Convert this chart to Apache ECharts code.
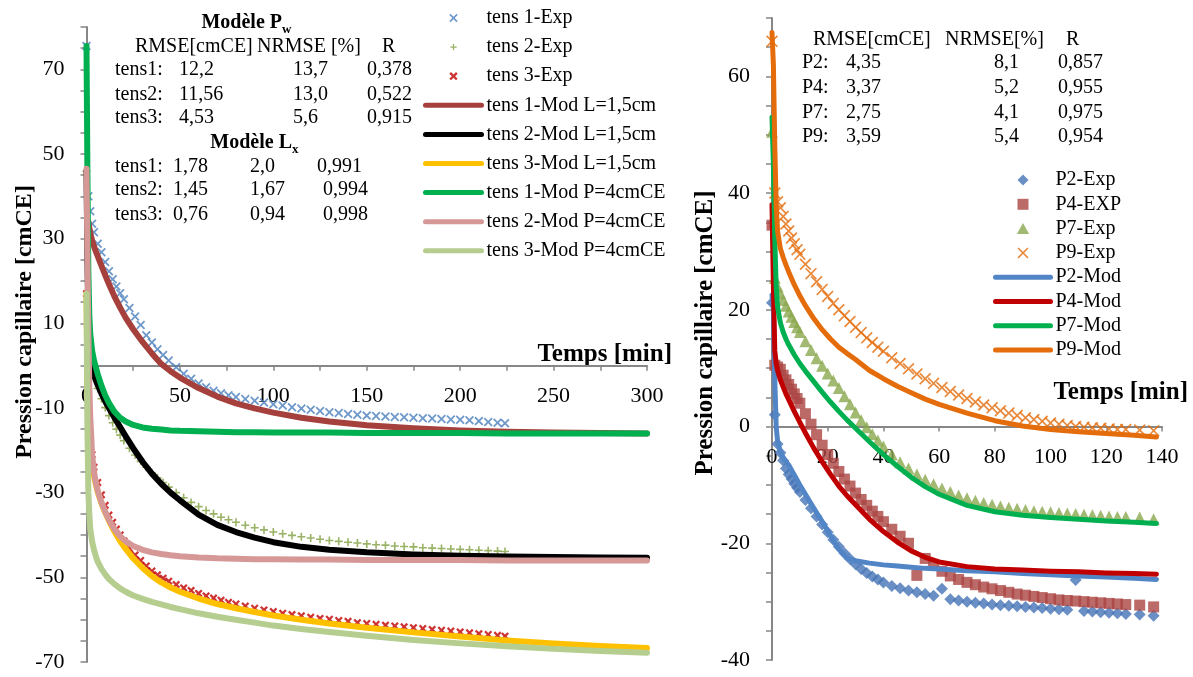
<!DOCTYPE html>
<html><head><meta charset="utf-8">
<script src="https://cdn.jsdelivr.net/npm/echarts@6/dist/echarts.min.js"></script>
<style>html,body{margin:0;padding:0;background:#fff}#c{width:1193px;height:677px}</style>
</head><body><div id="c"></div>
<script>
// ---------------- DATA ----------------
const timeLeftExp = [0,1,2,3,4,6,8,10,12,14,16,18,20,23,26,29,32,35,38,41,44,48,52,56,60,64,68,72,76,80,85,90,95,100,105,110,115,120,125,130,135,140,145,150,155,160,165,170,175,180,185,190,195,200,205,210,215,220,224];
const tens1Exp = [75.5,40,36.5,33.5,31.5,28.8,26.8,24.5,22.3,20.4,18.7,17.1,15.7,13.6,11.6,9.6,7.2,5.5,3.9,2.5,1.2,-0.4,-1.9,-3.1,-4.2,-5.1,-5.9,-6.5,-7,-7.4,-7.9,-8.3,-8.7,-9.1,-9.4,-9.8,-10.1,-10.4,-10.7,-11,-11.2,-11.4,-11.6,-11.8,-11.9,-12.0,-12.1,-12.2,-12.3,-12.4,-12.5,-12.6,-12.7,-12.8,-12.9,-13.1,-13.3,-13.5,-13.6];
const tens2Exp = [46,8,2,-1,-2.6,-5.4,-7.8,-9.9,-11.8,-13.5,-15,-16.4,-17.7,-19.5,-21.1,-22.6,-24,-25.3,-26.5,-27.6,-28.7,-30,-31.2,-32.3,-33.3,-34.2,-35,-35.8,-36.4,-37,-37.7,-38.3,-38.8,-39.3,-39.7,-40.1,-40.4,-40.7,-41,-41.3,-41.5,-41.7,-41.9,-42.1,-42.3,-42.4,-42.6,-42.7,-42.8,-43,-43.1,-43.2,-43.3,-43.4,-43.5,-43.6,-43.7,-43.8,-43.9];
const tens3Exp = [17,-10,-17,-21,-24,-27.6,-30.5,-33,-35.3,-37,-38.6,-40,-41.4,-43.2,-44.7,-46,-47.3,-48.5,-49.4,-50.2,-50.9,-51.7,-52.5,-53.1,-53.8,-54.4,-54.9,-55.4,-55.9,-56.3,-56.8,-57.3,-57.7,-58.1,-58.5,-58.8,-59.1,-59.4,-59.7,-59.9,-60.2,-60.4,-60.7,-60.9,-61.1,-61.3,-61.5,-61.7,-61.9,-62.1,-62.3,-62.5,-62.7,-62.9,-63.1,-63.3,-63.5,-63.7,-63.9];

const timeLeftMod = [0,0.5,1,1.5,2,3,4,5,6,8,10,12,15,18,21,25,30,35,40,45,50,60,70,80,90,100,115,130,150,175,200,225,250,275,300];
const tens1ModL = [null,null,34,32.5,31.3,29.6,28.2,27,25.9,23.6,21.4,19.3,16.3,13.7,11.3,8.6,5.6,2.9,0.4,-1.3,-2.8,-5.3,-7.3,-8.9,-10.1,-11.1,-12.3,-13.2,-14.1,-14.8,-15.3,-15.6,-15.8,-15.9,-16];
const tens2ModL = [46,25,12,6,3,0,-2.3,-3.5,-4.6,-6.6,-8.4,-10,-12.3,-14.5,-16.7,-19.5,-22.7,-25.5,-27.9,-30,-31.8,-35.2,-37.6,-39.3,-40.6,-41.7,-42.8,-43.5,-44.1,-44.6,-44.9,-45.1,-45.2,-45.3,-45.4];
const tens3ModL = [17,-5,-14,-18,-20.5,-23.5,-26,-28,-29.8,-32.5,-34.7,-36.6,-39.2,-41.4,-43.3,-45.5,-47.8,-49.7,-51.2,-52.4,-53.4,-55,-56.3,-57.3,-58.2,-59,-60,-60.9,-61.9,-63,-64,-64.9,-65.6,-66.2,-66.7];
const tens1ModP = [75.5,45,22,12,7.5,3.5,1.3,-0.4,-2,-4.7,-7,-8.8,-10.9,-12.3,-13.2,-14,-14.6,-14.9,-15.1,-15.3,-15.4,-15.5,-15.6,-15.7,-15.7,-15.8,-15.8,-15.8,-15.9,-15.9,-15.9,-16,-16,-16,-16];
const tens2ModP = [46.5,25,8,-5,-12,-21,-25,-27.6,-29.5,-32.3,-34.5,-36.4,-38.7,-40.3,-41.5,-42.6,-43.5,-44.1,-44.5,-44.8,-45,-45.3,-45.5,-45.6,-45.7,-45.7,-45.8,-45.8,-45.9,-45.9,-45.9,-46,-46,-46,-46];
const tens3ModP = [17,-15,-30,-35,-38.5,-41.5,-43.5,-45,-46.3,-48,-49.3,-50.4,-51.6,-52.6,-53.4,-54.3,-55.1,-55.8,-56.4,-57,-57.5,-58.5,-59.3,-60,-60.7,-61.4,-62.2,-62.9,-63.8,-64.8,-65.6,-66.3,-66.9,-67.4,-67.8];

const timeRightExp = [0,1,2,3,4,5,6,7,8,9,10,12,14,16,18,20,22,24,26,28,30,32,34,36,38,40,43,46,49,52,55,58,61,64,67,70,73,76,79,82,85,88,91,94,97,100,103,106,109,112,115,118,121,124,127,132,137];
const p2Exp = [21.2,2,-3,-4.5,-5.8,-7.2,-8.2,-9,-9.8,-10.5,-11.2,-12.6,-14,-15.4,-16.8,-18.1,-19.4,-20.6,-21.7,-22.7,-23.6,-24.4,-25.1,-25.7,-26.2,-26.7,-27.3,-27.7,-28.1,-28.4,-28.7,-29,-27.8,-29.6,-29.8,-30,-30.2,-30.3,-30.5,-30.6,-30.7,-30.8,-30.9,-31,-31.1,-31.2,-31.3,-31.4,-26.3,-31.6,-31.7,-31.8,-31.9,-32,-32.1,-32.2,-32.4];
const p4Exp = [34.5,10.5,10.2,9.8,8.8,8,7.2,6.4,5.6,4.8,4,2.2,0.4,-1.4,-3.2,-4.8,-6.3,-7.7,-9,-10.2,-11.4,-12.5,-13.5,-14.5,-15.4,-16.3,-17.6,-18.8,-20,-25.5,-22.6,-23.8,-24.8,-25.6,-26.2,-26.7,-27.1,-27.5,-27.8,-28.1,-28.4,-28.7,-28.9,-29.1,-29.3,-29.5,-29.7,-29.8,-29.9,-30,-30.1,-30.2,-30.3,-30.4,-30.5,-30.6,-30.9];
const p7Exp = [50.5,25.5,24,22.8,21.7,20.7,19.7,18.8,17.9,17,16.2,14.6,13.1,11.7,10.4,9.1,7.9,6.6,5.2,3.8,2.4,1.1,-0.1,-1.3,-2.4,-3.4,-4.8,-6.1,-7.2,-8.2,-9.1,-9.9,-10.6,-11.2,-11.8,-12.3,-12.7,-13.1,-13.4,-13.7,-13.9,-14.1,-14.3,-14.5,-14.6,-14.7,-14.8,-14.9,-15,-15.1,-15.2,-15.3,-15.4,-15.5,-15.5,-15.6,-15.9];
const p9Exp = [66,40,38.5,37.5,36,34.7,33.5,32.3,31.3,30.3,29.5,27.8,26.2,24.8,23.5,22.3,21.1,20,19,18,17,16.1,15.2,14.4,13.6,12.9,11.8,10.8,9.9,9,8.2,7.4,6.7,6,5.4,4.8,4.2,3.7,3.2,2.7,2.3,1.9,1.5,1.2,0.9,0.6,0.4,0.2,0,-0.1,-0.2,-0.3,-0.4,-0.5,-0.5,-0.6,-0.7];

const timeRightMod = [0,0.5,1,1.5,2,3,4,5,6,8,10,12,15,18,21,24,27,30,35,40,45,50,55,60,70,80,90,100,110,120,130,138];
const p2Mod = [22.5,20,8,0,-2.5,-4.3,-5.3,-6,-6.6,-8.3,-10,-11.6,-14,-16.3,-18.7,-21,-22.6,-23,-23.4,-23.7,-23.9,-24.1,-24.3,-24.4,-24.7,-24.9,-25.2,-25.4,-25.6,-25.8,-26,-26.2];
const p4Mod = [38,24,13,10.8,9.6,8,6.8,5.6,4.6,2.6,0.7,-1.1,-3.7,-6,-8.2,-10.2,-11.9,-13.4,-15.9,-18,-19.8,-21.3,-22.4,-23.2,-24,-24.4,-24.6,-24.8,-24.9,-25.1,-25.2,-25.3];
const p7Mod = [53,45,32,24,20.5,17.8,16.2,15,14,12.3,10.8,9.5,7.7,5.9,4.2,2.6,1.1,-0.3,-2.6,-4.8,-6.8,-8.7,-10.3,-11.6,-13.5,-14.6,-15.2,-15.6,-15.9,-16.2,-16.4,-16.6];
const p9Mod = [67.5,62,48,38,33.5,30.5,29,27.7,26.5,24.3,22.4,20.7,18.5,16.6,15,13.6,12.5,11.5,9.6,8.2,6.9,5.8,4.7,3.8,2.3,1,0.1,-0.5,-0.9,-1.2,-1.5,-1.8];

// tick labels
const leftYLabels = [-70,-50,-30,-10,10,30,50,70];
const leftXLabels = [0,50,100,150,200,250,300];
const rightYLabels = [-40,-20,0,20,40,60];
const rightXLabels = [0,20,40,60,80,100,120,140];

// annotation tables
const pwTitle = ['Modèle P', 'w'];
const lxTitle = ['Modèle L', 'x'];
const pwHeader = ['RMSE[cmCE]', 'NRMSE [%]', 'R'];
const pwRows = [['tens1:','12,2','13,7','0,378'],['tens2:','11,56','13,0','0,522'],['tens3:','4,53','5,6','0,915']];
const lxRows = [['tens1:','1,78','2,0','0,991'],['tens2:','1,45','1,67','0,994'],['tens3:','0,76','0,94','0,998']];
const rightHeader = ['RMSE[cmCE]', 'NRMSE[%]', 'R'];
const rightRows = [['P2:','4,35','8,1','0,857'],['P4:','3,37','5,2','0,955'],['P7:','2,75','4,1','0,975'],['P9:','3,59','5,4','0,954']];
const axisNameX = 'Temps [min]';
const axisNameY = 'Pression capillaire [cmCE]';

// ---------------- STYLE / BUILD ----------------
const FONT = '"Liberation Serif","Times New Roman",serif';
const GRAY = '#878787';
const X_THIN = 'path://M0,1 L1,0 L5,4 L9,0 L10,1 L6,5 L10,9 L9,10 L5,6 L1,10 L0,9 L4,5 Z';
const X_MED = 'path://M0,1.4 L1.4,0 L5,3.6 L8.6,0 L10,1.4 L6.4,5 L10,8.6 L8.6,10 L5,6.4 L1.4,10 L0,8.6 L3.6,5 Z';
const X_BOLD = 'path://M0,2 L2,0 L5,3 L8,0 L10,2 L7,5 L10,8 L8,10 L5,7 L2,10 L0,8 L3,5 Z';
const PLUS = 'path://M4,0 L6,0 L6,4 L10,4 L10,6 L6,6 L6,10 L4,10 L4,6 L0,6 L0,4 L4,4 Z';
const DIAMOND = 'path://M5,0 L10,5 L5,10 L0,5 Z';
const SQUARE = 'path://M0,0 L10,0 L10,10 L0,10 Z';
const TRIANGLE = 'path://M5,0 L10,9 L0,9 Z';
const pad = (p, a, b) => p.replace('path://', 'path://M' + a + ',' + a + ' M' + b + ',' + b + ' ');

function pairs(xs, ys) { return xs.map((x, i) => [x, ys[i]]); }

function scatter(name, gi, xs, ys, symbol, size, color) {
  return { name, type: 'scatter', xAxisIndex: gi, yAxisIndex: gi, data: pairs(xs, ys),
    symbol, symbolSize: size, itemStyle: { color }, silent: true };
}
function line(name, gi, xs, ys, color, width) {
  return { name, type: 'line', xAxisIndex: gi, yAxisIndex: gi, data: pairs(xs, ys),
    symbol: 'none', smooth: false, connectNulls: false,
    lineStyle: { color, width, cap: 'round', join: 'round' }, itemStyle: { color }, silent: true };
}

const LEFT = { left: 86.5, top: 27, width: 560.5, height: 635, ymin: -70, ymax: 80, xmax: 300 };
const RIGHT = { left: 772, top: 18, width: 390, height: 642, ymin: -40, ymax: 70, xmax: 140 };
const plotGrid = g => ({ left: g.left, top: g.top, width: g.width, height: g.height, outerBoundsMode: 'none', containLabel: false });
// helper grid whose bottom edge lies on value 0 of the plot: it carries the time axis
const zeroGrid = g => ({ left: g.left, top: g.top, width: g.width,
  height: g.height * g.ymax / (g.ymax - g.ymin), outerBoundsMode: 'none', containLabel: false });

function yAxis(grid, g, labels) {
  return { gridIndex: grid, type: 'value', min: g.ymin, max: g.ymax, interval: 5,
    axisLine: { show: true, onZero: false, lineStyle: { color: GRAY, width: 2 } },
    axisTick: { show: true, length: 6, lineStyle: { color: GRAY, width: 1.5 } },
    axisLabel: { fontFamily: FONT, fontSize: 22, color: '#000', margin: 22,
      formatter: v => labels.indexOf(Number(v)) >= 0 ? String(v) : '' },
    splitLine: { show: false } };
}
const hiddenX = (grid, g) => ({ gridIndex: grid, type: 'value', min: 0, max: g.xmax, show: false });
const hiddenY = grid => ({ gridIndex: grid, type: 'value', min: 0, max: 1, show: false });
function timeAxis(grid, g, interval, labels) {
  return { gridIndex: grid, type: 'value', min: 0, max: g.xmax, interval, position: 'bottom',
    axisLine: { show: true, onZero: false, lineStyle: { color: GRAY, width: 2 } },
    axisTick: { show: true, length: 5, lineStyle: { color: GRAY, width: 1.5 } },
    axisLabel: { fontFamily: FONT, fontSize: 22, color: '#000', margin: 20,
      formatter: v => labels.indexOf(Number(v)) >= 0 ? String(v) : '' },
    splitLine: { show: false } };
}

function txt(x, y, s, o) {
  return { type: 'text', x, y, silent: true,
    style: Object.assign({ text: s, fontFamily: FONT, fontSize: 20, fill: '#000',
      align: 'left', verticalAlign: 'middle' }, o || {}) };
}

const graphics = [];
graphics.push(txt(282, 23, pwTitle[0], { align: 'right', fontWeight: 'bold' }));
graphics.push(txt(282, 30, pwTitle[1], { fontWeight: 'bold', fontSize: 13 }));
[135, 257, 382].forEach((x, i) => graphics.push(txt(x, 47, pwHeader[i])));
pwRows.forEach((r, j) => [115, 179, 293, 367].forEach((x, i) => graphics.push(txt(x, [70, 95, 118][j], r[i]))));
graphics.push(txt(292, 143, lxTitle[0], { align: 'right', fontWeight: 'bold' }));
graphics.push(txt(292, 150, lxTitle[1], { fontWeight: 'bold', fontSize: 13 }));
lxRows.forEach((r, j) => [115, 173, 250, j === 0 ? 317 : 323].forEach((x, i) => graphics.push(txt(x, [167, 190, 215][j], r[i]))));
[813, 945, 1066].forEach((x, i) => graphics.push(txt(x, 40, rightHeader[i])));
rightRows.forEach((r, j) => [802, 846, 994, 1058].forEach((x, i) => graphics.push(txt(x, [63, 88, 113, 137][j], r[i]))));
graphics.push(txt(672, 355, axisNameX, { align: 'right', fontWeight: 'bold', fontSize: 25 }));
graphics.push(txt(1188, 393, axisNameX, { align: 'right', fontWeight: 'bold', fontSize: 25 }));
graphics.push(Object.assign(txt(0, 0, axisNameY, { align: 'center', fontWeight: 'bold', fontSize: 24 }), { x: 25, y: 322, rotation: Math.PI / 2 }));
graphics.push(Object.assign(txt(0, 0, axisNameY, { align: 'center', fontWeight: 'bold', fontSize: 25 }), { x: 706, y: 333, rotation: Math.PI / 2 }));

const series = [
  scatter('tens 1-Exp', 0, timeLeftExp, tens1Exp, X_MED, 9, '#4A7EBB'),
  scatter('tens 2-Exp', 0, timeLeftExp, tens2Exp, PLUS, 8, '#7F9F3F'),
  scatter('tens 3-Exp', 0, timeLeftExp, tens3Exp, X_BOLD, 8, '#C00000'),
  line('tens 1-Mod L=1,5cm', 0, timeLeftMod, tens1ModL, '#A5403D', 6),
  line('tens 2-Mod L=1,5cm', 0, timeLeftMod, tens2ModL, '#000000', 6),
  line('tens 3-Mod L=1,5cm', 0, timeLeftMod, tens3ModL, '#FFC000', 6),
  line('tens 1-Mod P=4cmCE', 0, timeLeftMod, tens1ModP, '#00B050', 6),
  line('tens 2-Mod P=4cmCE', 0, timeLeftMod, tens2ModP, '#D69897', 6),
  line('tens 3-Mod P=4cmCE', 0, timeLeftMod, tens3ModP, '#B5CD8F', 6),
  scatter('P2-Exp', 1, timeRightExp, p2Exp, 'diamond', 12, '#4573B5'),
  scatter('P4-EXP', 1, timeRightExp, p4Exp, 'rect', 11, '#AA4542'),
  scatter('P7-Exp', 1, timeRightExp, p7Exp, 'triangle', 12, '#8AA84C'),
  scatter('P9-Exp', 1, timeRightExp, p9Exp, X_THIN, 12, '#E46C0A'),
  line('P2-Mod', 1, timeRightMod, p2Mod, '#5285C6', 5),
  line('P4-Mod', 1, timeRightMod, p4Mod, '#C00000', 5),
  line('P7-Mod', 1, timeRightMod, p7Mod, '#00B050', 5),
  line('P9-Mod', 1, timeRightMod, p9Mod, '#E46C0A', 5)
];

const lineItem = (name, w) => ({ name, itemStyle: { opacity: 0 }, lineStyle: { width: w, cap: 'round' } });
const legendText = { fontFamily: FONT, fontSize: 20, color: '#000', lineHeight: 22 };
const option = {
  animation: false,
  backgroundColor: '#fff',
  grid: [plotGrid(LEFT), plotGrid(RIGHT), zeroGrid(LEFT), zeroGrid(RIGHT)],
  xAxis: [hiddenX(0, LEFT), hiddenX(1, RIGHT), timeAxis(2, LEFT, 25, leftXLabels), timeAxis(3, RIGHT, 20, rightXLabels)],
  yAxis: [yAxis(0, LEFT, leftYLabels), yAxis(1, RIGHT, rightYLabels), hiddenY(2), hiddenY(3)],
  legend: [
    { orient: 'vertical', left: 423, top: 7, padding: 0, itemWidth: 56, itemHeight: 10, itemGap: 7.1,
      selectedMode: false, textStyle: legendText,
      data: [
        { name: 'tens 1-Exp', icon: pad(X_MED, -1, 11) },
        { name: 'tens 2-Exp', icon: pad(PLUS, -3, 13) },
        { name: 'tens 3-Exp', icon: pad(X_BOLD, -1, 11) },
        lineItem('tens 1-Mod L=1,5cm', 5), lineItem('tens 2-Mod L=1,5cm', 5), lineItem('tens 3-Mod L=1,5cm', 5),
        lineItem('tens 1-Mod P=4cmCE', 5), lineItem('tens 2-Mod P=4cmCE', 5), lineItem('tens 3-Mod P=4cmCE', 5)] },
    { orient: 'vertical', left: 993, top: 169, padding: 0, itemWidth: 55, itemHeight: 11, itemGap: 2.3,
      selectedMode: false, textStyle: legendText,
      data: [
        { name: 'P2-Exp', icon: DIAMOND }, { name: 'P4-EXP', icon: SQUARE },
        { name: 'P7-Exp', icon: TRIANGLE }, { name: 'P9-Exp', icon: pad(X_THIN, 0, 10) },
        lineItem('P2-Mod', 5), lineItem('P4-Mod', 5), lineItem('P7-Mod', 5), lineItem('P9-Mod', 5)] }
  ],
  graphic: graphics,
  series
};

const chart = echarts.init(document.getElementById('c'), null, { renderer: 'canvas' });
chart.setOption(option);
</script></body></html>
